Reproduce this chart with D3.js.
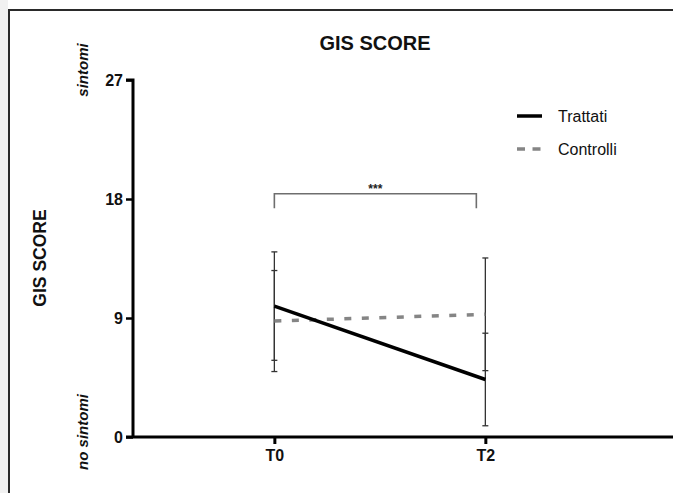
<!DOCTYPE html>
<html>
<head>
<meta charset="utf-8">
<script src="https://cdn.jsdelivr.net/npm/d3@7"></script>
<style>
    body { margin: 0; background: #fff; }
    svg { display: block; font-family: "Liberation Sans", Arial, sans-serif; }
</style>
</head>
<body>
<div id="chart"></div>
<script>
// data
const times = ['T0', 'T2'];
const timeValues = [0, 2];
const trattati = [9.9, 4.35];
const trattatiErr = [4.1, 3.5];
const controlli = [8.77, 9.28];
const controlliErr = [3.82, 4.26];
const yTicks = [0, 9, 18, 27];
const seriesNames = ['Trattati', 'Controlli'];

const width = 673, height = 493;

const svg = d3.select('#chart').append('svg')
    .attr('width', width)
    .attr('height', height);

// frame round the figure
svg.append('rect')
    .attr('x', 0).attr('y', 0)
    .attr('width', 8).attr('height', height)
    .attr('fill', '#f1f1f1');
svg.append('rect')
    .attr('x', 9).attr('y', 10)
    .attr('width', width + 20).attr('height', height + 20)
    .attr('fill', '#fff')
    .attr('stroke', '#2a2a2a')
    .attr('stroke-width', 2);

let x = d3.scaleLinear().domain([-1.34, 3.94]).range([133, 690]);
let y = d3.scaleLinear().domain([0, 27]).range([437, 80]);

// axes
let yAxis = svg.append('g')
    .attr('transform', 'translate(' + x(-1.34) + ',0)')
    .call(d3.axisLeft(y).tickValues(yTicks).tickSize(7).tickPadding(3));
yAxis.select('.domain').attr('stroke-width', 3).attr('d', 'M-7,' + y(27) + 'H0V' + y(0));
yAxis.selectAll('.tick line').attr('stroke-width', 2.5);
yAxis.selectAll('text')
    .attr('font-size', 16).attr('font-weight', 'bold')
    .attr('font-family', '"Liberation Sans", Arial, sans-serif')
    .attr('fill', '#111');

let xAxis = svg.append('g')
    .attr('transform', 'translate(0,' + y(0) + ')')
    .call(d3.axisBottom(x).tickValues(timeValues).tickFormat((d, i) => times[i]).tickSize(7).tickPadding(6));
xAxis.select('.domain').attr('stroke-width', 3).attr('d', 'M' + (x(-1.34) - 7) + ',0H' + x(3.94));
xAxis.selectAll('.tick line').attr('stroke-width', 3);
xAxis.selectAll('text')
    .attr('font-size', 16).attr('font-weight', 'bold')
    .attr('font-family', '"Liberation Sans", Arial, sans-serif')
    .attr('fill', '#111');

// error bars
function errorBars(means, errs) {
    for (let i = 0; i < means.length; i++) {
        let cx = x(timeValues[i]);
        let top = y(means[i] + errs[i]), bot = y(means[i] - errs[i]);
        svg.append('line')
            .attr('x1', cx).attr('x2', cx)
            .attr('y1', top).attr('y2', bot)
            .attr('stroke', '#333').attr('stroke-width', 1.3);
        [top, bot].forEach(v => {
            svg.append('line')
                .attr('x1', cx - 3).attr('x2', cx + 3)
                .attr('y1', v).attr('y2', v)
                .attr('stroke', '#333').attr('stroke-width', 1.3);
        });
    }
}
errorBars(trattati, trattatiErr);
errorBars(controlli, controlliErr);

let line = d3.line()
    .x((d, i) => x(timeValues[i]))
    .y(d => y(d));

svg.append('path')
    .attr('d', line(controlli))
    .attr('fill', 'none')
    .attr('stroke', '#858585')
    .attr('stroke-width', 3.5)
    .attr('stroke-dasharray', '7 10.5');

svg.append('path')
    .attr('d', line(trattati))
    .attr('fill', 'none')
    .attr('stroke', '#000')
    .attr('stroke-width', 3.5);

// significance bracket
let bx1 = x(timeValues[0]), bx2 = x(timeValues[1]) - 9;
svg.append('path')
    .attr('d', 'M' + bx1 + ',' + y(17.3) + 'V' + y(18.4) + 'H' + bx2 + 'V' + y(17.3))
    .attr('fill', 'none')
    .attr('stroke', '#6e6e6e')
    .attr('stroke-width', 1.6);
svg.append('text')
    .attr('x', (bx1 + bx2) / 2).attr('y', y(18.4) - 1)
    .attr('text-anchor', 'middle')
    .attr('font-size', 12).attr('font-weight', 'bold')
    .attr('fill', '#222')
    .text('***');

// titles
svg.append('text')
    .attr('x', 375).attr('y', 50)
    .attr('text-anchor', 'middle')
    .attr('font-size', 20).attr('font-weight', 'bold')
    .attr('fill', '#111')
    .text('GIS SCORE');

svg.append('text')
    .attr('transform', 'translate(46,258) rotate(-90)')
    .attr('text-anchor', 'middle')
    .attr('font-size', 17.5).attr('font-weight', 'bold')
    .attr('fill', '#111')
    .text('GIS SCORE');

svg.append('text')
    .attr('transform', 'translate(88,70) rotate(-90)')
    .attr('text-anchor', 'middle')
    .attr('font-size', 15).attr('font-weight', 'bold').attr('font-style', 'italic')
    .attr('fill', '#111')
    .text('sintomi');

svg.append('text')
    .attr('transform', 'translate(88,432) rotate(-90)')
    .attr('text-anchor', 'middle')
    .attr('font-size', 15).attr('font-weight', 'bold').attr('font-style', 'italic')
    .attr('fill', '#111')
    .text('no sintomi');

// legend
let legend = svg.append('g').attr('transform', 'translate(517,116)');
seriesNames.forEach((name, i) => {
    let g = legend.append('g').attr('transform', 'translate(0,' + i * 33 + ')');
    g.append('line')
        .attr('x1', 0).attr('x2', 25)
        .attr('stroke', i === 0 ? '#000' : '#858585')
        .attr('stroke-width', 3.5)
        .attr('stroke-dasharray', i === 0 ? null : '8 7.5');
    g.append('text')
        .attr('x', 41).attr('y', 6)
        .attr('font-size', 16)
        .attr('fill', '#111')
        .text(name);
});
</script>
</body>
</html>
